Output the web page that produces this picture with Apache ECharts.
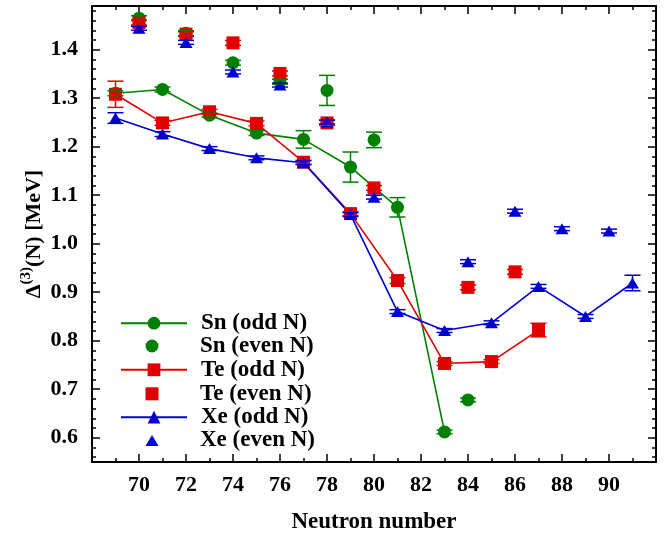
<!DOCTYPE html>
<html>
<head>
<meta charset="utf-8">
<script src="https://cdn.jsdelivr.net/npm/echarts@6/dist/echarts.min.js"></script>
<style>html,body{margin:0;padding:0;background:#fff}#c{width:672px;height:535px}</style>
</head>
<body>
<div id="c"></div>
<script>
// ---- data ----
const snOddN   = [69, 71, 73, 75, 77, 79, 81, 83];
const snOddV   = [1.310, 1.318, 1.265, 1.228, 1.215, 1.158, 1.075, 0.612];
const snOddE   = [0.005, 0.005, 0.004, 0.005, 0.018, 0.031, 0.020, 0.004];
const snEvenN  = [70, 72, 74, 76, 78, 80, 84];
const snEvenV  = [1.465, 1.434, 1.373, 1.334, 1.316, 1.214, 0.678];
const snEvenE  = [0.005, 0.005, 0.005, 0.005, 0.031, 0.016, 0.004];
const teOddN   = [69, 71, 73, 75, 77, 79, 81, 83, 85, 87];
const teOddV   = [1.308, 1.249, 1.272, 1.248, 1.168, 1.062, 0.924, 0.753, 0.757, 0.822];
const teOddE   = [0.027, 0.005, 0.005, 0.005, 0.004, 0.004, 0.006, 0.004, 0.004, 0.014];
const teEvenN  = [70, 72, 74, 76, 78, 80, 84, 86];
const teEvenV  = [1.456, 1.432, 1.414, 1.351, 1.249, 1.115, 0.910, 0.942];
const teEvenE  = [0.005, 0.005, 0.005, 0.005, 0.005, 0.005, 0.005, 0.005];
const xeOddN   = [69, 71, 73, 75, 77, 79, 81, 83, 85, 87, 89, 91];
const xeOddV   = [1.259, 1.226, 1.196, 1.177, 1.167, 1.060, 0.860, 0.821, 0.837, 0.912, 0.850, 0.919];
const xeOddE   = [0.011, 0.005, 0.004, 0.004, 0.004, 0.004, 0.004, 0.004, 0.004, 0.004, 0.004, 0.016];
const xeEvenN  = [70, 72, 74, 76, 78, 80, 84, 86, 88, 90];
const xeEvenV  = [1.444, 1.415, 1.354, 1.327, 1.251, 1.096, 0.963, 1.067, 1.031, 1.026];
const xeEvenE  = [0.004, 0.004, 0.004, 0.004, 0.004, 0.004, 0.004, 0.004, 0.004, 0.004];

const xLabels = [70, 72, 74, 76, 78, 80, 82, 84, 86, 88, 90];
const xMinor  = [69, 71, 73, 75, 77, 79, 81, 83, 85, 87, 89, 91];
const yLabels = [0.6, 0.7, 0.8, 0.9, 1.0, 1.1, 1.2, 1.3, 1.4];
const yMinor  = [];
for (let k = 28; k <= 74; k++) { if (k % 5 !== 0) yMinor.push(+(k * 0.02).toFixed(2)); }

const legendNames = ['Sn (odd N)', 'Sn (even N)', 'Te (odd N)', 'Te (even N)', 'Xe (odd N)', 'Xe (even N)'];

// ---- styles ----
const FONT = 'Liberation Serif';
const GREEN = '#008000', RED = '#e00000', BLUE = '#0000d0';

function pts(n, v) { return n.map((x, i) => [x, v[i]]); }
function errPts(n, v, e) { return n.map((x, i) => [x, v[i], e[i]]); }

function errSeries(data, color) {
  return {
    type: 'custom', data: data, encode: { x: 0, y: 1 }, silent: true, z: 3,
    renderItem: function (params, api) {
      const x = api.value(0), y = api.value(1), e = api.value(2);
      const t = api.coord([x, y + e]), b = api.coord([x, y - e]);
      const hw = 8;
      const st = { stroke: color, lineWidth: 1.5 };
      return { type: 'group', children: [
        { type: 'line', shape: { x1: t[0], y1: t[1], x2: b[0], y2: b[1] }, style: st },
        { type: 'line', shape: { x1: t[0] - hw, y1: t[1], x2: t[0] + hw, y2: t[1] }, style: st },
        { type: 'line', shape: { x1: b[0] - hw, y1: b[1], x2: b[0] + hw, y2: b[1] }, style: st }
      ]};
    }
  };
}

function lineSeries(name, data, color, symbol, size) {
  return { name: name, type: 'line', data: data, symbol: symbol, symbolSize: size,
    lineStyle: { color: color, width: 1.6 }, itemStyle: { color: color },
    showSymbol: true, animation: false, z: 2 };
}
function scatterSeries(name, data, color, symbol, size) {
  return { name: name, type: 'scatter', data: data, symbol: symbol, symbolSize: size,
    itemStyle: { color: color, opacity: 1 }, animation: false, z: 2 };
}

const tickLine = { color: '#000', width: 1.5 };
function xAx(pos, labels, major) {
  return {
    type: 'value', min: 68, max: 92, position: pos, gridIndex: 0,
    axisLine: { show: major, lineStyle: { color: '#000', width: 2 } },
    axisTick: { show: true, inside: true, length: major ? 8 : 4, lineStyle: tickLine,
      customValues: major ? xLabels : xMinor },
    axisLabel: { show: labels, customValues: xLabels, margin: 12, color: '#000',
      fontFamily: FONT, fontWeight: 'bold', fontSize: 22 },
    splitLine: { show: false }
  };
}
function yAx(pos, labels, major) {
  return {
    type: 'value', min: 0.55, max: 1.49, position: pos, gridIndex: 0,
    axisLine: { show: major, lineStyle: { color: '#000', width: 2 } },
    axisTick: { show: true, inside: true, length: major ? 8 : 4, lineStyle: tickLine,
      customValues: major ? yLabels : yMinor },
    axisLabel: { show: labels, customValues: yLabels, margin: 14, color: '#000',
      fontFamily: FONT, fontWeight: 'bold', fontSize: 22,
      formatter: v => v.toFixed(1) },
    splitLine: { show: false }
  };
}

const xAxes = [xAx('bottom', true, true), xAx('bottom', false, false), xAx('top', false, true), xAx('top', false, false)];
xAxes[0].name = 'Neutron number';
xAxes[0].nameLocation = 'middle';
xAxes[0].nameGap = 49;
xAxes[0].nameMoveOverlap = false;
xAxes[0].nameTextStyle = { fontFamily: FONT, fontWeight: 'bold', fontSize: 23, color: '#000' };

const yAxes = [yAx('left', true, true), yAx('left', false, false), yAx('right', false, true), yAx('right', false, false)];
const mainTok = { fontFamily: FONT, fontWeight: 'bold', fontSize: 22, color: '#000', lineHeight: 26, verticalAlign: 'bottom' };
yAxes[0].name = '{d|Δ}{s|(3)}{n|(N) [MeV]}';
yAxes[0].nameLocation = 'middle';
yAxes[0].nameRotate = 90;
yAxes[0].nameGap = 47;
yAxes[0].nameMoveOverlap = false;
yAxes[0].nameTextStyle = { fontFamily: FONT, fontWeight: 'bold', fontSize: 22, color: '#000',
  rich: { d: mainTok, n: mainTok,
    s: { fontFamily: FONT, fontWeight: 'bold', fontSize: 15, color: '#000', lineHeight: 12, verticalAlign: 'top' } } };

// legend layout: rows, marker centre x, text start x
const rowY = [322.7, 345.5, 369.3, 393.3, 416.7, 440];
const symW = [13, 13, 13, 13, 13, 13];
const symH = [16, 13, 16, 13, 16, 11];
const legends = legendNames.map((nm, i) => {
  const odd = i % 2 === 0;
  const ih = symH[i];
  const iw = odd ? 66 : symW[i];
  const left = odd ? 120 : 152 - iw / 2;
  const pad = 200 - (left + iw + 5);
  return { data: [nm], left: left, top: rowY[i] - 11, orient: 'vertical', padding: 0,
    itemWidth: iw, itemHeight: ih, itemGap: 0, selectedMode: false,
    textStyle: { fontFamily: FONT, fontWeight: 'bold', fontSize: 23, color: '#000', padding: [0, 0, 0, pad] } };
});

const option = {
  animation: false,
  backgroundColor: '#fff',
  grid: { left: 92, right: 16, top: 6, bottom: 73, containLabel: false, outerBoundsMode: 'none' },
  xAxis: xAxes,
  yAxis: yAxes,
  legend: legends,
  series: [
    errSeries(errPts(snOddN, snOddV, snOddE), GREEN),
    errSeries(errPts(snEvenN, snEvenV, snEvenE), GREEN),
    lineSeries('Sn (odd N)', pts(snOddN, snOddV), GREEN, 'circle', 13),
    scatterSeries('Sn (even N)', pts(snEvenN, snEvenV), GREEN, 'circle', 13),
    errSeries(errPts(teOddN, teOddV, teOddE), RED),
    errSeries(errPts(teEvenN, teEvenV, teEvenE), RED),
    lineSeries('Te (odd N)', pts(teOddN, teOddV), RED, 'rect', 13),
    scatterSeries('Te (even N)', pts(teEvenN, teEvenV), RED, 'rect', 13),
    errSeries(errPts(xeOddN, xeOddV, xeOddE), BLUE),
    errSeries(errPts(xeEvenN, xeEvenV, xeEvenE), BLUE),
    lineSeries('Xe (odd N)', pts(xeOddN, xeOddV), BLUE, 'triangle', [13, 11]),
    scatterSeries('Xe (even N)', pts(xeEvenN, xeEvenV), BLUE, 'triangle', [13, 11])
  ]
};

const chart = echarts.init(document.getElementById('c'), null, { renderer: 'canvas' });
chart.setOption(option);
</script>
</body>
</html>
